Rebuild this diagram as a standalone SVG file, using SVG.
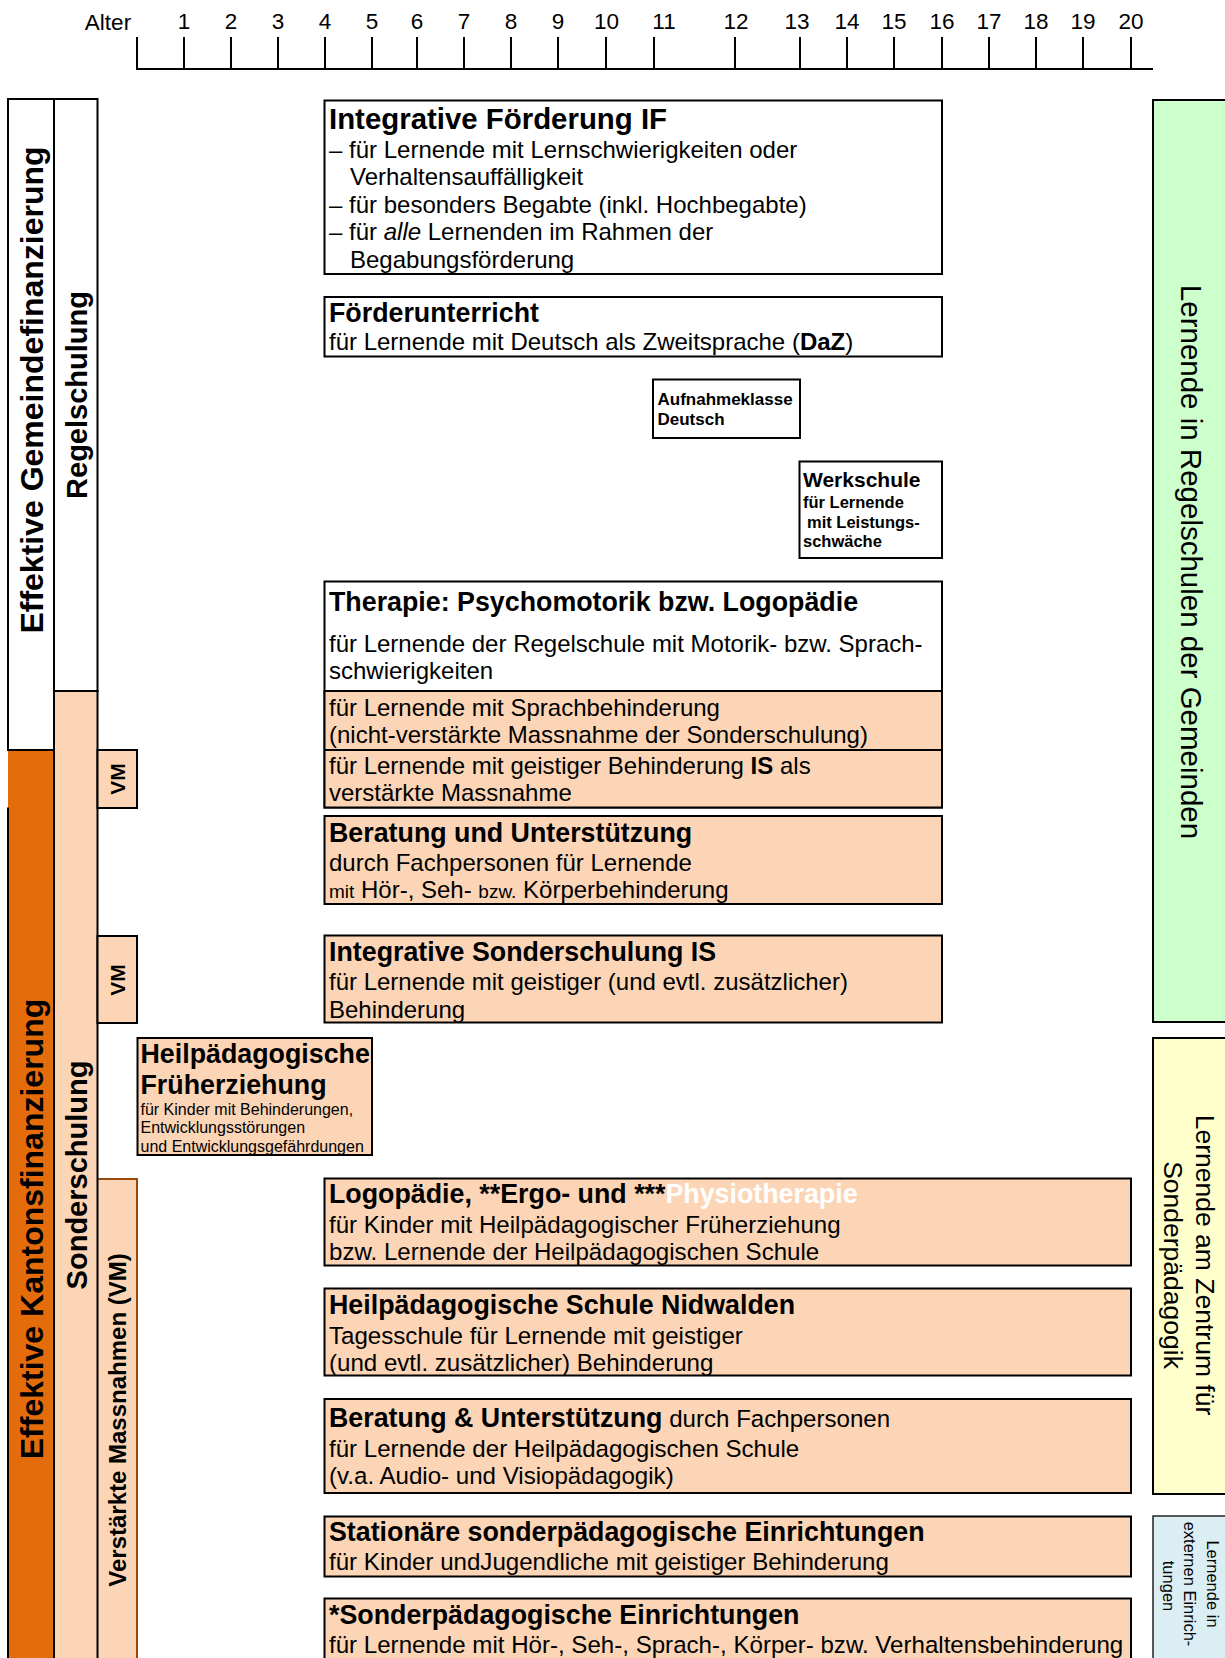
<svg xmlns="http://www.w3.org/2000/svg" width="1225" height="1658" viewBox="0 0 1225 1658">
<style>
text{font-family:"Liberation Sans",Arial,Helvetica,sans-serif;fill:#000}
.b{font-weight:bold}
.ax{font-size:22.5px}
.t29{font-size:29.4px;font-weight:bold}
.t{font-size:26.8px;font-weight:bold}
.p{font-size:24px}
.q{font-size:24.1px}
.box{stroke:#000;stroke-width:2}
.w{fill:#fff}
.pe{fill:#FBD5B5}
.or{fill:#E46C0A}
.mid{text-anchor:middle}
</style>
<rect width="1225" height="1658" fill="#fff"/>

<g id="axis">
<path d="M137,37V69H1153 M184,37V69 M231,37V69 M278,37V69 M325,37V69 M372,37V69 M417,37V69 M464,37V69 M511,37V69 M558,37V69 M606,37V69 M654,37V69 M735,37V69 M800,37V69 M847,37V69 M894,37V69 M942,37V69 M989,37V69 M1036,37V69 M1083,37V69 M1131,37V69" fill="none" stroke="#000" stroke-width="2"/>
<g class="ax mid">
<text x="108" y="29.5">Alter</text>
<text x="184" y="28.5">1</text><text x="231" y="28.5">2</text><text x="278" y="28.5">3</text><text x="325" y="28.5">4</text><text x="372" y="28.5">5</text><text x="417" y="28.5">6</text><text x="464" y="28.5">7</text><text x="511" y="28.5">8</text><text x="558" y="28.5">9</text><text x="606.5" y="28.5">10</text><text x="664" y="28.5">11</text><text x="736" y="28.5">12</text><text x="797" y="28.5">13</text><text x="847" y="28.5">14</text><text x="894" y="28.5">15</text><text x="942" y="28.5">16</text><text x="989" y="28.5">17</text><text x="1036" y="28.5">18</text><text x="1083" y="28.5">19</text><text x="1131" y="28.5">20</text>
</g>
</g>

<g id="col-gemeinde"><rect x="8" y="99" width="46" height="651" class="box w"/>
<text transform="translate(42.5,390) rotate(-90)" class="b mid" font-size="32">Effektive Gemeindefinanzierung</text></g>
<g id="col-kanton"><rect x="8" y="750" width="46" height="912" class="or"/>
<path d="M8,750H54V1662 M8,807.5V1662" fill="none" stroke="#000" stroke-width="2"/>
<text transform="translate(42.5,1229) rotate(-90)" class="b mid" font-size="32">Effektive Kantonsfinanzierung</text></g>
<g id="col-vm-long"><rect x="97.5" y="1179" width="39.5" height="483" class="pe"/>
<path d="M97.5,1179H137V1662" fill="none" stroke="#9C4A0A" stroke-width="2"/>
<text transform="translate(126,1420) rotate(-90)" class="b mid" font-size="24">Verstärkte Massnahmen (VM)</text></g>
<g id="col-regel"><rect x="54" y="99" width="43.5" height="592" class="box w"/>
<text transform="translate(86.5,395) rotate(-90)" class="b mid" font-size="29">Regelschulung</text></g>
<g id="col-sonder"><rect x="54" y="691" width="43.5" height="971" class="box pe"/>
<text transform="translate(86.5,1175) rotate(-90)" class="b mid" font-size="29">Sonderschulung</text></g>
<g id="vm1"><rect x="97.5" y="750" width="39.5" height="58" class="box pe"/>
<text transform="translate(125,779) rotate(-90)" class="b mid" font-size="21">VM</text></g>
<g id="vm2"><rect x="97.5" y="936" width="39.5" height="87" class="box pe"/>
<text transform="translate(125,980) rotate(-90)" class="b mid" font-size="21">VM</text></g>

<g id="right-regel"><rect x="1153" y="100" width="80" height="922" fill="#CCFFCC" class="box"/>
<text transform="translate(1180.5,562) rotate(90)" class="mid" font-size="29.5">Lernende in Regelschulen der Gemeinden</text></g>
<g id="right-zentrum"><rect x="1153" y="1038" width="80" height="456" fill="#FFFFCC" class="box"/>
<text transform="translate(1195.5,1265) rotate(90)" class="mid" font-size="26.5">Lernende am Zentrum für</text>
<text transform="translate(1163.5,1265) rotate(90)" class="mid" font-size="26.5">Sonderpädagogik</text></g>
<g id="right-extern"><rect x="1153" y="1516" width="80" height="150" fill="#DBEEF4" stroke="#222" stroke-width="1.5"/>
<text transform="translate(1207,1584) rotate(90)" class="mid" font-size="16.5">Lernende in</text>
<text transform="translate(1184,1584) rotate(90)" class="mid" font-size="16.5">externen Einrich-</text>
<text transform="translate(1163,1586) rotate(90)" class="mid" font-size="16.5">tungen</text></g>

<g id="if"><rect x="324.5" y="100.5" width="617.5" height="173.5" class="box w"/>
<text x="329" y="128.5" class="t29">Integrative Förderung IF</text>
<text x="329" y="158" class="p">– für Lernende mit Lernschwierigkeiten oder</text>
<text x="350" y="185" class="p">Verhaltensauffälligkeit</text>
<text x="329" y="212.5" class="p">– für besonders Begabte (inkl. Hochbegabte)</text>
<text x="329" y="240" class="p">– für <tspan font-style="italic">alle</tspan> Lernenden im Rahmen der</text>
<text x="350" y="267.5" class="p">Begabungsförderung</text></g>

<g id="foerderunterricht"><rect x="324.5" y="297" width="617.5" height="59.5" class="box w"/>
<text x="329" y="322" class="t">Förderunterricht</text>
<text x="329" y="350" class="p">für Lernende mit Deutsch als Zweitsprache (<tspan class="b">DaZ</tspan>)</text></g>

<g id="aufnahmeklasse"><rect x="653" y="379.5" width="147" height="58.5" class="box w"/>
<text x="657.5" y="404.5" class="b" font-size="17">Aufnahmeklasse</text>
<text x="657.5" y="424.5" class="b" font-size="17">Deutsch</text></g>

<g id="werkschule"><rect x="799.5" y="461.5" width="142.5" height="96.5" class="box w"/>
<text x="803" y="487" class="b" font-size="21">Werkschule</text>
<text x="803" y="508" class="b" font-size="16.5">für Lernende</text>
<text x="807" y="527.5" class="b" font-size="16.5">mit Leistungs-</text>
<text x="803" y="547" class="b" font-size="16.5">schwäche</text></g>

<g id="therapie"><rect x="324.5" y="581.5" width="617.5" height="226" class="box w"/>
<rect x="324.5" y="691" width="617.5" height="116.5" class="box pe"/>
<path d="M324.5,750H942" stroke="#000" stroke-width="2"/>
<text x="329" y="610.5" class="t">Therapie: Psychomotorik bzw. Logopädie</text>
<text x="329" y="651.5" class="p">für Lernende der Regelschule mit Motorik- bzw. Sprach-</text>
<text x="329" y="678.5" class="p">schwierigkeiten</text>
<text x="329" y="716" class="p">für Lernende mit Sprachbehinderung</text>
<text x="329" y="743" class="p">(nicht-verstärkte Massnahme der Sonderschulung)</text>
<text x="329" y="773.5" class="p">für Lernende mit geistiger Behinderung <tspan class="b">IS</tspan> als</text>
<text x="329" y="800.5" class="p">verstärkte Massnahme</text></g>

<g id="beratung"><rect x="324.5" y="816" width="617.5" height="88" class="box pe"/>
<text x="329" y="841.5" class="t">Beratung und Unterstützung</text>
<text x="329" y="870.5" class="p">durch Fachpersonen für Lernende</text>
<text x="329" y="897.5" class="p"><tspan font-size="19">mit</tspan> Hör-, Seh- <tspan font-size="19">bzw.</tspan> Körperbehinderung</text></g>

<g id="is"><rect x="324.5" y="935.5" width="617.5" height="87" class="box pe"/>
<text x="329" y="960.5" class="t">Integrative Sonderschulung IS</text>
<text x="329" y="990" class="p">für Lernende mit geistiger (und evtl. zusätzlicher)</text>
<text x="329" y="1017.5" class="p">Behinderung</text></g>

<g id="hfe"><rect x="137.5" y="1038" width="234.5" height="117" class="box pe"/>
<text x="140.5" y="1062.5" class="t">Heilpädagogische</text>
<text x="140.5" y="1093.5" class="t">Früherziehung</text>
<text x="140.5" y="1114.5" font-size="16">für Kinder mit Behinderungen,</text>
<text x="140.5" y="1133" font-size="16">Entwicklungsstörungen</text>
<text x="140.5" y="1151.5" font-size="16">und Entwicklungsgefährdungen</text></g>

<g id="logopaedie"><rect x="324.5" y="1178.5" width="806.5" height="87" class="box pe"/>
<text x="329" y="1203" class="t">Logopädie, **Ergo- und ***<tspan fill="#fff">Physiotherapie</tspan></text>
<text x="329" y="1233" class="q">für Kinder mit Heilpädagogischer Früherziehung</text>
<text x="329" y="1260" class="q">bzw. Lernende der Heilpädagogischen Schule</text></g>

<g id="hps"><rect x="324.5" y="1288.5" width="806.5" height="87" class="box pe"/>
<text x="329" y="1313.5" class="t">Heilpädagogische Schule Nidwalden</text>
<text x="329" y="1343.5" class="q">Tagesschule für Lernende mit geistiger</text>
<text x="329" y="1370.5" class="q">(und evtl. zusätzlicher) Behinderung</text></g>

<g id="beratung2"><rect x="324.5" y="1399" width="806.5" height="94" class="box pe"/>
<text x="329" y="1427" class="q"><tspan class="b" font-size="26.8">Beratung &amp; Unterstützung</tspan> durch Fachpersonen</text>
<text x="329" y="1456.5" class="q">für Lernende der Heilpädagogischen Schule</text>
<text x="329" y="1483.5" class="q">(v.a. Audio- und Visiopädagogik)</text></g>

<g id="stationaer"><rect x="324.5" y="1516.5" width="806.5" height="60" class="box pe"/>
<text x="329" y="1540.5" class="t">Stationäre sonderpädagogische Einrichtungen</text>
<text x="329" y="1570" class="q">für Kinder undJugendliche mit geistiger Behinderung</text></g>

<g id="sonderpaed"><rect x="324.5" y="1598.5" width="806.5" height="70" class="box pe"/>
<text x="329" y="1624" class="t">*Sonderpädagogische Einrichtungen</text>
<text x="329" y="1653" class="q">für Lernende mit Hör-, Seh-, Sprach-, Körper- bzw. Verhaltensbehinderung</text></g>
</svg>
